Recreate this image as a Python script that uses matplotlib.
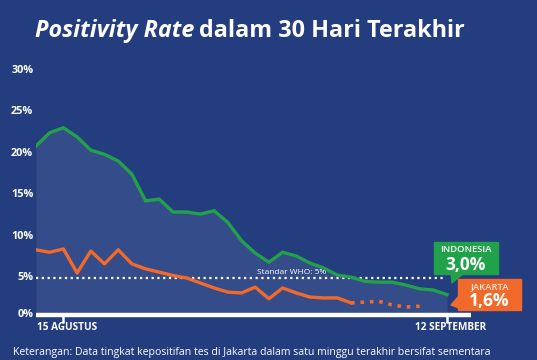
import matplotlib
matplotlib.use("Agg")
import matplotlib.pyplot as plt
from matplotlib.patches import Rectangle, Polygon

# positivity rate (%) from 13 Aug to 12 Sep, one value per day
indonesia = [20.9, 22.5, 23.1, 22.0, 20.4, 19.9, 19.1, 17.5, 14.3, 14.5,
             12.95, 12.95, 12.7, 13.1, 11.7, 9.5, 8.0, 6.9, 8.1, 7.65,
             6.8, 6.2, 5.35, 5.1, 4.6, 4.5, 4.5, 4.15, 3.7, 3.55, 3.0]
jakarta = [8.4, 8.1, 8.5, 5.6, 8.25, 6.7, 8.4, 6.7, 6.1, 5.7,
           5.3, 5.0, 4.4, 3.8, 3.3, 3.2, 3.9, 2.5, 3.8, 3.2,
           2.7, 2.6, 2.6, 2.0, 2.1, 2.2, 1.75, 1.5, 1.6]
jakarta_final = 24          # from this day on the Jakarta data is provisional
who_standard = 5
x_ticks = [2, 30]
x_labels = ["15 AGUSTUS", "12 SEPTEMBER"]
y_ticks = [5, 10, 15, 20, 25, 30]

BG = "#233d7f"
GREEN = "#22a14b"
ORANGE = "#f26a2b"
FONT = "Open Sans"

W, H = 537, 360
fig = plt.figure(figsize=(W / 100, H / 100), dpi=100, facecolor=BG)


def fx(px):
    return px / W


def fy(py):
    return 1 - py / H


ax = fig.add_axes([fx(36), fy(319.5), fx(471) - fx(36), fy(70.5) - fy(319.5)])
ax.set_facecolor(BG)
ax.set_xlim(0, 31.75)
ax.set_ylim(0, 30)
for s in ax.spines.values():
    s.set_visible(False)
ax.set_xticks([])
ax.set_yticks([])

base = 0.55
days = list(range(len(indonesia)))
ax.fill_between(days, indonesia, base, color="white", alpha=0.08, lw=0)
ax.plot(days, indonesia, color=GREEN, lw=2.4, solid_joinstyle="miter", zorder=4)

jd = list(range(len(jakarta)))
ax.plot(jd[:jakarta_final], jakarta[:jakarta_final], color=ORANGE, lw=2.4, zorder=4)
ax.plot(jd[jakarta_final - 1:], jakarta[jakarta_final - 1:], color=ORANGE, lw=2.6,
        linestyle=(0, (1, 1.6)), zorder=4)

ax.hlines(who_standard, 0, 29.9, colors="white", lw=1.6, linestyles=(0, (1, 1.6)), zorder=3)
ax.text(16.1, who_standard + 0.3, "Standar WHO: 5%", color="white", fontsize=6,
        family=FONT, va="bottom", ha="left")

ax.hlines(base, 0, 31.75, colors="white", lw=3.2, zorder=5)
for t, lab in zip(x_ticks, x_labels):
    ax.vlines(t, -0.45, base, colors="white", lw=1.8, clip_on=False)
    ax.text(t + 0.25, -0.95, lab, color="white", fontsize=7.2, family=FONT,
            fontweight="bold", ha="center", va="center", clip_on=False)

for v in y_ticks:
    ax.text(-0.2, v, f"{v}%", color="white", fontsize=7.8, family=FONT,
            fontweight="bold", ha="right", va="center", transform=ax.transData)
ax.text(-0.2, base, "0%", color="white", fontsize=7.8, family=FONT,
        fontweight="bold", ha="right", va="center")

# title
t1 = fig.text(fx(35), fy(31), "Positivity Rate", color="white", fontsize=16.8,
              family=FONT, fontweight="bold", style="italic", va="center")
fig.canvas.draw()
bb = t1.get_window_extent()
fig.text(bb.x1 / W + fx(5), fy(31), "dalam 30 Hari Terakhir", color="white",
         fontsize=16.8, family=FONT, fontweight="bold", va="center")

# value labels
fig.patches.append(Rectangle((fx(434), fy(274)), fx(64), fy(242) - fy(274),
                             transform=fig.transFigure, color=GREEN))
fig.patches.append(Polygon([(fx(451), fy(273)), (fx(464), fy(273)), (fx(452), fy(283))],
                           closed=True, transform=fig.transFigure, color=GREEN))
fig.text(fx(466), fy(250), "INDONESIA", color="white", fontsize=6.8, family=FONT,
         fontweight="semibold", ha="center", va="center")
fig.text(fx(466), fy(265), f"{indonesia[-1]:.1f}%".replace(".", ","), color="white",
         fontsize=12.5, family=FONT, fontweight="bold", ha="center", va="center")

fig.patches.append(Rectangle((fx(458), fy(310)), fx(63), fy(279) - fy(310),
                             transform=fig.transFigure, color=ORANGE))
fig.patches.append(Polygon([(fx(459), fy(296)), (fx(459), fy(308)), (fx(451), fy(305))],
                           closed=True, transform=fig.transFigure, color=ORANGE))
fig.text(fx(489.5), fy(287), "JAKARTA", color="#fde3d6", fontsize=6.8, family=FONT,
         fontweight="semibold", ha="center", va="center")
fig.text(fx(489.5), fy(301), f"{jakarta[-1]:.1f}%".replace(".", ","), color="white",
         fontsize=12.5, family=FONT, fontweight="bold", ha="center", va="center")

fig.text(fx(13), fy(352), "Keterangan: Data tingkat kepositifan tes di Jakarta dalam satu "
         "minggu terakhir bersifat sementara", color="white", fontsize=7.6, family=FONT,
         ha="left", va="center")

fig.savefig("out.png", dpi=100, facecolor=BG)
